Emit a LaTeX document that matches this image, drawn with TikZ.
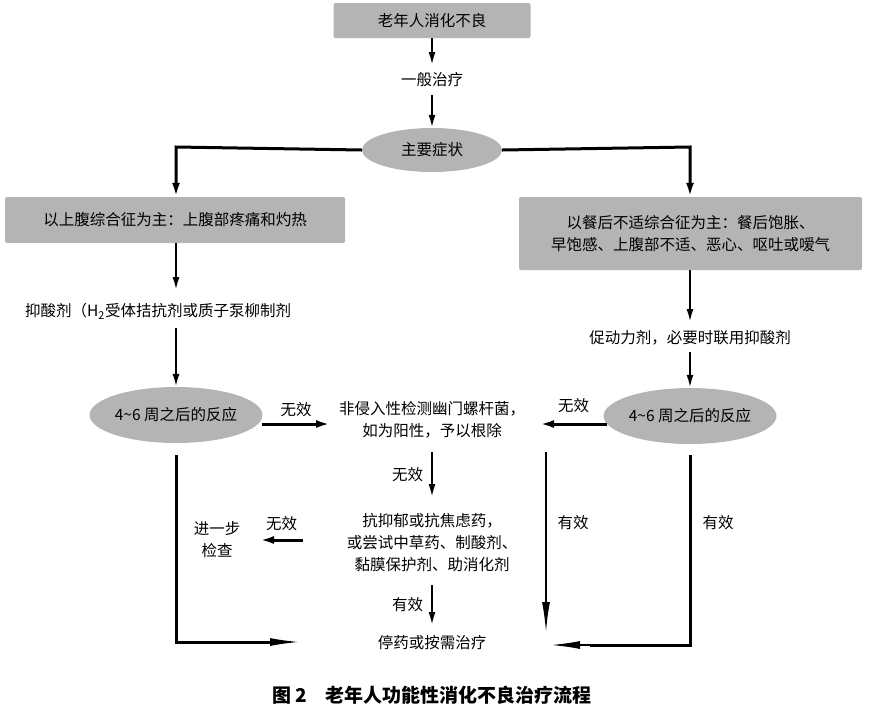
\documentclass[tikz,border=0pt]{standalone}
\usepackage{fontspec}
\setmainfont{Noto Sans CJK SC}
\usetikzlibrary{arrows.meta,shapes.geometric}
\definecolor{boxgray}{HTML}{B4B4B4}
\tikzset{
  box/.style={fill=boxgray,rounded corners=2pt,inner sep=0pt},
  oval/.style={ellipse,fill=boxgray,inner sep=0pt},
  txt/.style={align=center,inner sep=0pt,font=\fontsize{15.5}{22}\selectfont},
  thick line/.style={line width=3pt,-{Latex[length=14pt,width=8pt]}},
  thin line/.style={line width=2pt,-{Latex[length=13pt,width=7pt]}},
  plain/.style={line width=3pt},
}
\begin{document}
\begin{tikzpicture}[x=1pt,y=-1pt]
\useasboundingbox (0,0) rectangle (870,716);
\node[box,minimum width=197pt,minimum height=35pt,txt] (top) at (432,20.5) {老年人消化不良};
\node[txt] (gen) at (432,80) {一般治疗};
\node[oval,minimum width=140pt,minimum height=44pt,txt] (main) at (432,150) {主要症状};
\node[box,minimum width=340pt,minimum height=46pt,txt] (lbox) at (175,220) {以上腹综合征为主：上腹部疼痛和灼热};
\node[box,minimum width=343pt,minimum height=73pt,txt] (rbox) at (690.5,233.5) {以餐后不适综合征为主：餐后饱胀、\\早饱感、上腹部不适、恶心、呕吐或嗳气};
\node[txt,anchor=west] (lmed) at (25,311) {抑酸剂（H\textsubscript{2}受体拮抗剂或质子泵柳制剂};
\node[txt] (rmed) at (690,338) {促动力剂，必要时联用抑酸剂};
\node[oval,minimum width=170pt,minimum height=56pt,txt] (lres) at (176,415) {4\textasciitilde 6 周之后的反应};
\node[oval,minimum width=166pt,minimum height=56pt,txt] (rres) at (690,416) {4\textasciitilde 6 周之后的反应};
\node[txt] (hp) at (432,420) {非侵入性检测幽门螺杆菌，\\如为阳性，予以根除};
\node[txt] (anti) at (432,543) {抗抑郁或抗焦虑药，\\或尝试中草药、制酸剂、\\黏膜保护剂、助消化剂};
\node[txt] (check) at (217,540) {进一步\\检查};
\node[txt] (stop) at (432,643) {停药或按需治疗};
\coordinate (l1) at (176,147); \coordinate (r1) at (690,147);
\coordinate (lb) at (176,642); \coordinate (rb) at (690,645);

\draw[thin line] (top.south) -- (432,65);
\draw[thin line] (432,95) -- (main.north);
\draw[thick line] (main.west) -- (l1) -- (lbox.north -| l1);
\draw[thick line] (main.east) -- (r1) -- (rbox.north -| r1);
\draw[thin line] (lbox.south -| l1) -- (176,290);
\draw[thin line] (176,328) -- (lres.north);
\draw[thin line] (rbox.south -| r1) -- (690,322);
\draw[thin line] (690,352) -- (rres.north);
\draw[thick line] (262,424) -- node[txt,above=6pt] {无效} (330,424);
\draw[thick line] (607,424) -- node[txt,above=10pt] {无效} (540,424);
\draw[thin line] (432,452) -- node[txt,left=8pt] {无效} (432,497);
\draw[thick line] (303,540) -- node[txt,above=8pt] {无效} (260,540);
\draw[thin line] (432,585) -- node[txt,left=8pt] {有效} (432,625);
\draw[plain] (176,455) -- (lb) -- (270,642);
\draw[line width=2pt,-{Latex[length=30pt,width=8pt]}] (268,642) -- (300,642);
\draw[line width=1.6pt,-{Latex[length=30pt,width=8pt]}] (546,452) -- (546,632);
\node[txt] at (573,523) {有效};
\draw[plain] (690,455) -- (rb) -- (590,645);
\draw[line width=2pt,-{Latex[length=30pt,width=8pt]}] (592,645) -- (550,645);
\node[txt] at (718,523) {有效};
\node[inner sep=0pt,font=\fontsize{19}{22}\selectfont] (cap) at (432,695) {\textbf{图 2\quad 老年人功能性消化不良治疗流程}};
\end{tikzpicture}
\end{document}
